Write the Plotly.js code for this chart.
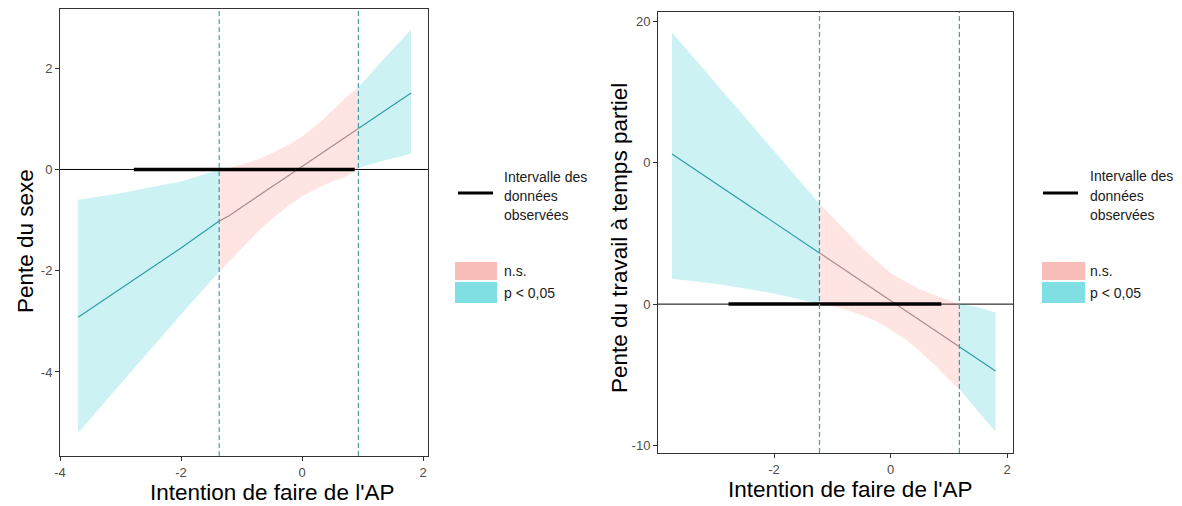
<!DOCTYPE html>
<html>
<head>
<meta charset="utf-8">
<script src="https://cdn.plot.ly/plotly-3.0.1.min.js"></script>
<style>html,body{margin:0;padding:0;background:#fff;}#chart{width:1182px;height:506px;}</style>
</head>
<body>
<div id="chart"></div>
<script>
// ---- Left panel: Pente du sexe ----
const sexX   = [-3.7, -3.0, -2.5, -2.0, -1.37, -1.2, -1.0, -0.75, -0.5, -0.25, 0.0, 0.25, 0.5, 0.75, 0.93, 1.3, 1.8];
const sexEst = [-2.92, -2.36, -1.95, -1.55, -1.02, -0.91, -0.745, -0.54, -0.34, -0.14, 0.06, 0.26, 0.46, 0.66, 0.81, 1.11, 1.51];
const sexLo  = [-5.2, -4.25, -3.55, -2.86, -2.02, -1.81, -1.55, -1.25, -0.98, -0.74, -0.53, -0.37, -0.24, -0.13, 0.03, 0.16, 0.31];
const sexHi  = [-0.6, -0.47, -0.35, -0.24, 0.0, 0.03, 0.1, 0.19, 0.32, 0.47, 0.65, 0.89, 1.16, 1.45, 1.62, 2.12, 2.76];
const sexJN  = [-1.37, 0.93];

// ---- Right panel: Pente du travail à temps partiel ----
const ptX   = [-3.75, -3.0, -2.5, -2.0, -1.22, -1.0, -0.75, -0.5, -0.25, 0.0, 0.25, 0.5, 0.75, 1.0, 1.18, 1.5, 1.8];
const ptEst = [10.6, 8.54, 7.16, 5.78, 3.62, 3.01, 2.32, 1.63, 0.94, 0.25, -0.44, -1.13, -1.82, -2.51, -3.01, -3.9, -4.73];
const ptLo  = [1.8, 1.44, 1.10, 0.75, 0.0, -0.13, -0.42, -0.77, -1.2, -1.8, -2.47, -3.31, -4.28, -5.32, -6.0, -7.57, -9.0];
const ptHi  = [19.2, 15.64, 13.22, 10.81, 7.1, 6.15, 5.06, 4.03, 3.08, 2.2, 1.59, 1.05, 0.64, 0.30, 0.0, -0.23, -0.6];
const ptJN  = [-1.22, 1.18];

// observed data range
const obsRange = [-2.78, 0.87];

const xTickVals1 = [-4, -2, 0, 2];
const xTickText1 = ['-4', '-2', '0', '2'];
const yTickVals1 = [-4, -2, 0, 2];
const yTickText1 = ['-4', '-2', '0', '2'];
const xTickVals2 = [-2, 0, 2];
const xTickText2 = ['-2', '0', '2'];
const yTickVals2 = [-10, 0, 10, 20];
const yTickText2 = ['-10', '0', '0', '20'];

const legendLineLabel = ['Intervalle des', 'données', 'observées'];
const legendFillLabels = ['n.s.', 'p < 0,05'];

const W = 1182, H = 506;
const px = v => v / W;
const py = v => 1 - v / H;

const CYAN_FILL = 'rgba(0,191,196,0.2)';
const PINK_FILL = 'rgba(248,118,109,0.2)';
const CYAN_LINE = '#2f9fa3';
const PINK_LINE = '#ad8b8b';
const FONT = 'Arial, "Liberation Sans", sans-serif';

function segIdx(xs, jn) {
  const a = xs.indexOf(jn[0]), b = xs.indexOf(jn[1]);
  return [[0, a], [a, b], [b, xs.length - 1]];
}
function band(xs, lo, hi, i0, i1, color, xa, ya) {
  const xx = xs.slice(i0, i1 + 1), l = lo.slice(i0, i1 + 1), h = hi.slice(i0, i1 + 1);
  return {x: xx.concat(xx.slice().reverse()), y: h.concat(l.slice().reverse()),
    type: 'scatter', mode: 'lines', fill: 'toself', fillcolor: color,
    line: {width: 0}, xaxis: xa, yaxis: ya, hoverinfo: 'skip', showlegend: false};
}
function est(xs, e, i0, i1, color, xa, ya) {
  return {x: xs.slice(i0, i1 + 1), y: e.slice(i0, i1 + 1), type: 'scatter', mode: 'lines',
    line: {color: color, width: 1.2}, xaxis: xa, yaxis: ya, showlegend: false};
}

const traces = [];
function panel(xs, e, lo, hi, jn, xa, ya) {
  const s = segIdx(xs, jn);
  const cols = [CYAN_FILL, PINK_FILL, CYAN_FILL];
  const lcols = [CYAN_LINE, PINK_LINE, CYAN_LINE];
  s.forEach((r, i) => traces.push(band(xs, lo, hi, r[0], r[1], cols[i], xa, ya)));
  s.forEach((r, i) => traces.push(est(xs, e, r[0], r[1], lcols[i], xa, ya)));
  traces.push({x: obsRange, y: [0, 0], type: 'scatter', mode: 'lines',
    line: {color: '#000', width: 3.5}, xaxis: xa, yaxis: ya, showlegend: false});
}
panel(sexX, sexEst, sexLo, sexHi, sexJN, 'x', 'y');
panel(ptX, ptEst, ptLo, ptHi, ptJN, 'x2', 'y2');

const axBase = {showgrid: false, zeroline: false, showline: true, mirror: true,
  linecolor: '#333', linewidth: 1, ticks: 'outside', ticklen: 4, tickcolor: '#333',
  tickfont: {family: FONT, size: 13, color: '#4d4d4d'}, fixedrange: true};

const shapes = [];
// zero lines
shapes.push({type: 'line', xref: 'x domain', yref: 'y', x0: 0, x1: 1, y0: 0, y1: 0, line: {color: '#000', width: 1}, layer: 'below'});
shapes.push({type: 'line', xref: 'x2 domain', yref: 'y2', x0: 0, x1: 1, y0: 0, y1: 0, line: {color: '#000', width: 1}, layer: 'below'});
// Johnson-Neyman bounds
const DASH = {color: '#4f97a8', width: 1.2, dash: '5px,3px'};
sexJN.forEach(v => shapes.push({type: 'line', xref: 'x', yref: 'y domain', x0: v, x1: v, y0: 0, y1: 1, line: DASH}));
ptJN.forEach(v => shapes.push({type: 'line', xref: 'x2', yref: 'y2 domain', x0: v, x1: v, y0: 0, y1: 1, line: DASH}));

const annotations = [];
function txt(x, y, t, size, opts) {
  annotations.push(Object.assign({xref: 'paper', yref: 'paper', x: px(x), y: py(y), text: t,
    showarrow: false, font: {family: FONT, size: size, color: '#000'}, xanchor: 'center', yanchor: 'middle'}, opts || {}));
}
txt(272, 492, "Intention de faire de l'AP", 22.5);
txt(850, 489, "Intention de faire de l'AP", 22.5);
txt(25, 241, 'Pente du sexe', 22.5, {textangle: -90});
txt(620, 238, 'Pente du travail à temps partiel', 22.5, {textangle: -90});

// Legends
const LF = {family: FONT, size: 14, color: '#1a1a1a'};
function legend(x0, lineY, textX, textYs, swX0, swX1) {
  shapes.push({type: 'line', xref: 'paper', yref: 'paper', x0: px(x0), x1: px(x0 + 35), y0: py(lineY), y1: py(lineY), line: {color: '#000', width: 3}});
  legendLineLabel.forEach((t, i) => txt(textX, textYs[i], t, 14, {xanchor: 'left', font: LF}));
  shapes.push({type: 'rect', xref: 'paper', yref: 'paper', x0: px(swX0), x1: px(swX1), y0: py(280), y1: py(262), fillcolor: '#f9bdba', line: {width: 0}});
  shapes.push({type: 'rect', xref: 'paper', yref: 'paper', x0: px(swX0), x1: px(swX1), y0: py(303), y1: py(282), fillcolor: '#80dfe2', line: {width: 0}});
  txt(textX, 271, legendFillLabels[0], 14, {xanchor: 'left', font: LF});
  txt(textX, 293, legendFillLabels[1], 14, {xanchor: 'left', font: LF});
}
legend(458, 193, 502, [177, 196, 215], 455, 497);
legend(1043, 193, 1088, [176, 196, 215], 1042, 1085);

const layout = {
  width: W, height: H, margin: {l: 0, r: 0, t: 0, b: 0},
  paper_bgcolor: '#fff', plot_bgcolor: '#fff', showlegend: false,
  xaxis: Object.assign({}, axBase, {domain: [px(60), px(428)], range: [-4, 2.08], tickvals: xTickVals1, ticktext: xTickText1, anchor: 'y'}),
  yaxis: Object.assign({}, axBase, {domain: [py(456), py(9)], range: [-5.66, 3.17], tickvals: yTickVals1, ticktext: yTickText1, anchor: 'x'}),
  xaxis2: Object.assign({}, axBase, {domain: [px(658), px(1013)], range: [-3.99, 2.1], tickvals: xTickVals2, ticktext: xTickText2, anchor: 'y2'}),
  yaxis2: Object.assign({}, axBase, {domain: [py(453), py(12)], range: [-10.52, 20.64], tickvals: yTickVals2, ticktext: yTickText2, anchor: 'x2'}),
  shapes: shapes, annotations: annotations
};

Plotly.newPlot('chart', traces, layout, {displayModeBar: false, staticPlot: true});
</script>
</body>
</html>
